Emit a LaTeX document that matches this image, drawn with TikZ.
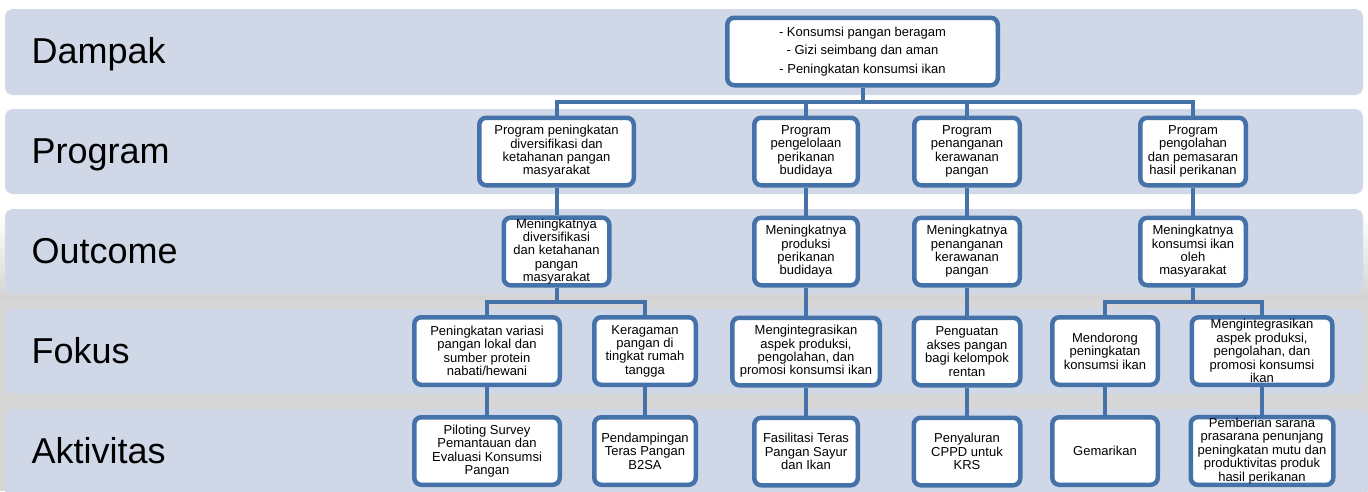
\documentclass[tikz,border=0pt]{standalone}
\usepackage{fontspec}
\setmainfont{Liberation Sans}
\usepackage{tikz}
\usetikzlibrary{arrows}
\definecolor{lineblue}{RGB}{70,114,170}
\definecolor{bandgray}{RGB}{208,216,231}

\begin{document}
\begin{tikzpicture}[x=1pt,y=-1pt,node distance=100pt,line join=miter]
  \tikzstyle{box}=[draw=lineblue,fill=white,line width=4.5pt,rounded corners=7pt,
                   minimum height=67.5pt,inner sep=1pt,align=center,
                   font=\fontsize{13}{13.4}\selectfont]
  \tikzstyle{band}=[fill=bandgray,rounded corners=8pt]
  \tikzstyle{level}=[anchor=base west,font=\fontsize{36}{40}\selectfont]
  \tikzstyle{link}=[draw=lineblue,line width=4pt]

  \useasboundingbox (0,0) rectangle (1368,491);
  \fill[top color=white,bottom color=gray!35] (0,215) rectangle (1368,300);
  \fill[gray!32] (0,300) rectangle (1368,491);

  % bands
  \fill[band] (5,9)   rectangle (1363,95);
  \fill[band] (5,109) rectangle (1363,194);
  \fill[band] (5,209) rectangle (1363,294);
  \fill[band] (5,309) rectangle (1363,394);
  \fill[band] (5,409) rectangle (1368,497);

  \node[level] (ldampak)    at (28,63)  {Dampak};
  \node[level] (lprogram)   at (28,163) {Program};
  \node[level] (loutcome)   at (28,263) {Outcome};
  \node[level] (lfokus)     at (28,363) {Fokus};
  \node[level] (laktivitas) at (28,463) {Aktivitas};

  % dampak
  \node[box,minimum width=270.5pt,font=\fontsize{13}{18.7}\selectfont] (d) at (862.5,51.5)
       {- Konsumsi pangan beragam\\- Gizi seimbang dan aman\\- Peningkatan konsumsi ikan};

  % program
  \node[box,minimum width=154.5pt] (p1) at (556.5,151.5)
       {Program peningkatan\\diversifikasi dan\\ketahanan pangan\\masyarakat};
  \node[box,minimum width=103.5pt] (p2) at (806,151.5)
       {Program\\pengelolaan\\perikanan\\budidaya};
  \node[box,minimum width=105.5pt] (p3) at (967,151.5)
       {Program\\penanganan\\kerawanan\\pangan};
  \node[box,minimum width=105.5pt] (p4) at (1193,151.5)
       {Program\\pengolahan\\dan pemasaran\\hasil perikanan};

  % outcome
  \node[box,minimum width=105.5pt] (o1) [below of=p1]
       {Meningkatnya\\diversifikasi\\dan ketahanan\\pangan\\masyarakat};
  \node[box,minimum width=103.5pt] (o2) [below of=p2]
       {Meningkatnya\\produksi\\perikanan\\budidaya};
  \node[box,minimum width=105.5pt] (o3) [below of=p3]
       {Meningkatnya\\penanganan\\kerawanan\\pangan};
  \node[box,minimum width=105.5pt] (o4) [below of=p4]
       {Meningkatnya\\konsumsi ikan\\oleh\\masyarakat};

  % fokus
  \node[box,minimum width=145.5pt] (f1) at (487,351)
       {Peningkatan variasi\\pangan lokal dan\\sumber protein\\nabati/hewani};
  \node[box,minimum width=101.5pt] (f2) at (645,351)
       {Keragaman\\pangan di\\tingkat rumah\\tangga};
  \node[box,minimum width=147.5pt] (f3) [below of=o2]
       {Mengintegrasikan\\aspek produksi,\\pengolahan, dan\\promosi konsumsi ikan};
  \node[box,minimum width=106.5pt] (f4) [below of=o3]
       {Penguatan\\akses pangan\\bagi kelompok\\rentan};
  \node[box,minimum width=105.5pt] (f5) at (1105,351)
       {Mendorong\\peningkatan\\konsumsi ikan};
  \node[box,minimum width=140.5pt] (f6) at (1262,351)
       {Mengintegrasikan\\aspek produksi,\\pengolahan, dan\\promosi konsumsi\\ikan};

  % aktivitas
  \node[box,minimum width=145.5pt] (a1) [below of=f1]
       {Piloting Survey\\Pemantauan dan\\Evaluasi Konsumsi\\Pangan};
  \node[box,minimum width=101.5pt] (a2) [below of=f2]
       {Pendampingan\\Teras Pangan\\B2SA};
  \node[box,minimum width=103.5pt] (a3) [below of=f3]
       {Fasilitasi Teras\\Pangan Sayur\\dan Ikan};
  \node[box,minimum width=106.5pt] (a4) [below of=f4]
       {Penyaluran\\CPPD untuk\\KRS};
  \node[box,minimum width=105.5pt] (a5) [below of=f5]
       {Gemarikan};
  \node[box,minimum width=142.5pt] (a6) [below of=f6]
       {Pemberian sarana\\prasarana penunjang\\peningkatan mutu dan\\produktivitas produk\\hasil perikanan};

  \coordinate (bus)  at (862.5,102);
  \coordinate (bus1) at (556.5,302);
  \coordinate (bus4) at (1193,302);

  \draw[link] (d.south) -- (bus) -| (p1.north)
              (bus) -| (p2.north)
              (bus) -| (p3.north)
              (bus) -| (p4.north);
  \draw[link]
        (p1) edge (o1)
        (p2) edge (o2)
        (p3) edge (o3)
        (p4) edge (o4)
        (o2) edge (f3)
        (o3) edge (f4)
        (f1) edge (a1)
        (f2) edge (a2)
        (f3) edge (a3)
        (f4) edge (a4)
        (f5) edge (a5)
        (f6) edge (a6);
  \draw[link] (o1.south) -- (bus1) -| (f1.north)
              (bus1) -| (f2.north);
  \draw[link] (o4.south) -- (bus4) -| (f5.north)
              (bus4) -| (f6.north);
\end{tikzpicture}
\end{document}
